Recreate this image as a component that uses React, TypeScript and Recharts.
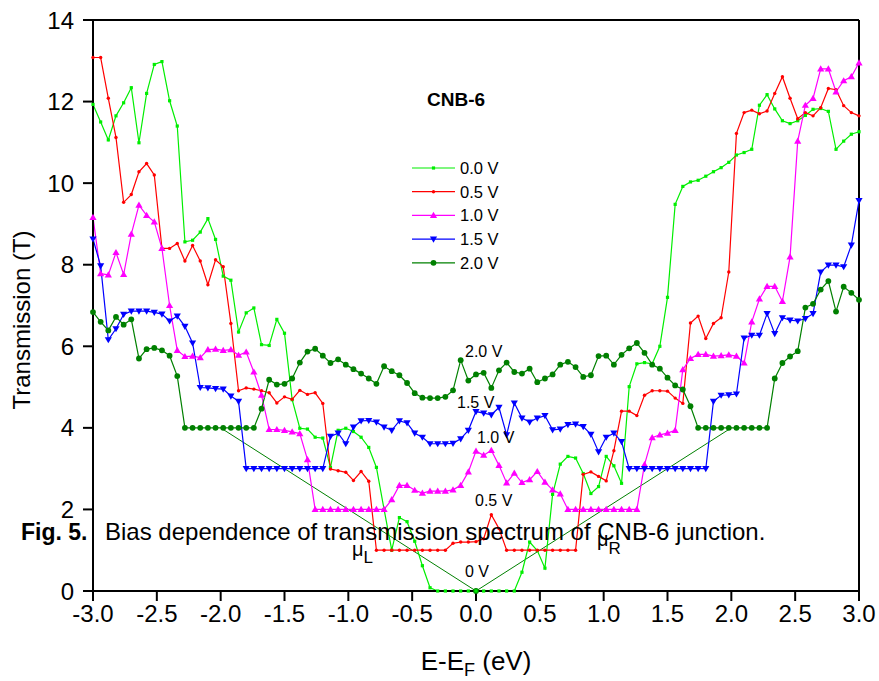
import { LineChart, Line, XAxis, YAxis, ReferenceLine } from 'recharts'

const FONT = '"Liberation Sans", Arial, Helvetica, sans-serif'

// E - E_F grid (eV): 101 points from -3.0 to 3.0, step 0.06
const energy = Array.from({ length: 101 }, (_, i) => Math.round((-3 + i * 0.06) * 100) / 100)

// transmission per bias
const t00 = [
  11.93, 11.5, 11.06, 11.65, 11.97, 12.34, 10.99, 12.2, 12.91, 12.98,
  12.02, 11.4, 8.56, 8.6, 8.8, 9.13, 8.62, 7.72, 7.62, 6.35,
  6.82, 6.94, 6.04, 6.02, 6.66, 6.32, 4.69, 3.99, 3.97, 3.77,
  3.75, 3.03, 3.94, 3.99, 3.91, 3.77, 3.52, 3.03, 2.0, 1.0,
  1.8, 1.7, 1.22, 0.62, 0.08, 0, 0, 0, 0, 0,
  0, 0, 0, 0, 0, 0, 0.46, 1.2, 0.99, 0.56,
  2.37, 3.11, 3.3, 3.26, 2.88, 2.39, 2.56, 3.3, 3.07, 2.64,
  5.01, 5.57, 5.6, 5.57, 6.0, 7.2, 9.48, 9.92, 10.03, 10.07,
  10.17, 10.28, 10.38, 10.51, 10.69, 10.75, 10.83, 11.91, 12.17, 11.82,
  11.53, 11.46, 11.53, 11.66, 11.81, 11.83, 11.76, 10.83, 11.03, 11.2,
  11.26,
]
const t05 = [
  13.08, 13.08, 12.08, 11.12, 9.53, 9.72, 10.28, 10.48, 10.2, 8.4,
  8.4, 8.52, 8.09, 8.47, 8.09, 7.51, 8.12, 7.95, 6.56, 4.91,
  4.98, 4.95, 4.91, 4.86, 4.61, 4.76, 4.7, 4.92, 4.82, 4.86,
  4.6, 2.99, 2.95, 2.91, 2.71, 2.93, 2.69, 1.0, 1.0, 1.0,
  1.0, 1.0, 1.0, 1.0, 1.0, 1.0, 1.0, 1.17, 1.2, 1.2,
  1.21, 1.28, 1.87, 1.53, 1.0, 1.0, 1.0, 1.0, 1.0, 1.0,
  1.0, 1.0, 1.0, 1.0, 2.86, 2.92, 2.81, 2.7, 3.44, 4.41,
  4.41, 4.3, 4.8, 4.91, 4.91, 4.9, 4.73, 4.6, 6.57, 6.74,
  6.19, 6.56, 6.7, 7.82, 11.22, 11.73, 11.79, 11.7, 11.77, 12.2,
  12.61, 12.08, 11.58, 11.73, 11.65, 11.85, 12.32, 12.29, 11.9, 11.73,
  11.65,
]
const t10 = [
  9.16, 7.78, 7.75, 8.3, 7.76, 8.75, 9.46, 9.21, 9.05, 8.4,
  7.0, 5.9, 5.75, 5.76, 5.72, 5.92, 5.93, 5.9, 5.92, 5.78,
  5.86, 5.37, 4.8, 3.96, 3.96, 3.94, 3.9, 3.86, 3.22, 2.0,
  2.0, 2.0, 2.0, 2.0, 2.0, 2.0, 2.0, 2.0, 2.0, 2.24,
  2.59, 2.59, 2.47, 2.4, 2.45, 2.45, 2.45, 2.48, 2.59, 2.92,
  3.43, 3.33, 3.45, 3.08, 2.65, 2.89, 2.66, 2.73, 2.93, 2.67,
  2.48, 2.38, 2.0, 2.0, 2.0, 2.0, 2.0, 2.0, 2.0, 2.0,
  2.0, 2.0, 3.1, 3.76, 3.83, 3.87, 3.94, 5.43, 5.7, 5.8,
  5.8, 5.76, 5.77, 5.79, 5.76, 5.59, 6.6, 7.16, 7.47, 7.47,
  7.1, 8.19, 11.03, 11.91, 12.08, 12.8, 12.8, 12.24, 12.51, 12.61,
  12.95,
]
const t15 = [
  8.63, 7.97, 6.16, 6.43, 6.78, 6.86, 6.86, 6.86, 6.83, 6.79,
  6.62, 6.74, 6.49, 6.08, 4.99, 4.98, 4.96, 4.95, 4.78, 4.65,
  3.0, 3.0, 3.0, 3.0, 3.0, 3.0, 3.0, 3.0, 3.0, 3.0,
  3.0, 3.79, 3.87, 3.61, 4.02, 4.17, 4.18, 4.14, 4.02, 3.94,
  4.17, 4.12, 3.87, 3.77, 3.61, 3.61, 3.61, 3.62, 3.73, 3.94,
  4.4, 4.36, 4.32, 4.5, 3.83, 4.61, 4.24, 4.14, 4.24, 4.3,
  3.95, 3.97, 4.08, 4.09, 4.03, 3.84, 3.41, 3.77, 3.87, 3.66,
  3.0, 3.0, 3.0, 3.0, 3.0, 3.0, 3.0, 3.0, 3.0, 3.0,
  3.0, 4.65, 4.8, 4.81, 4.83, 6.2, 6.27, 6.27, 6.8, 6.31,
  6.7, 6.64, 6.62, 6.68, 6.8, 7.82, 7.99, 7.99, 7.95, 8.48,
  9.57,
]
const t20 = [
  6.84, 6.6, 6.39, 6.72, 6.53, 6.66, 5.7, 5.93, 5.96, 5.9,
  5.77, 5.27, 4.0, 4.0, 4.0, 4.0, 4.0, 4.0, 4.0, 4.0,
  4.0, 4.0, 4.47, 5.18, 5.06, 5.08, 5.21, 5.6, 5.87, 5.94,
  5.77, 5.59, 5.68, 5.55, 5.44, 5.33, 5.21, 5.08, 5.51, 5.39,
  5.29, 5.1, 4.85, 4.74, 4.73, 4.73, 4.76, 4.92, 5.66, 5.16,
  5.31, 5.35, 4.98, 5.41, 5.6, 5.37, 5.33, 5.45, 5.12, 5.21,
  5.31, 5.55, 5.62, 5.49, 5.25, 5.29, 5.76, 5.77, 5.55, 5.79,
  5.95, 6.08, 5.84, 5.55, 5.45, 5.23, 5.04, 4.94, 4.53, 4.0,
  4.0, 4.0, 4.0, 4.0, 4.0, 4.0, 4.0, 4.0, 4.0, 5.21,
  5.59, 5.75, 5.88, 6.95, 7.04, 7.39, 7.6, 6.85, 7.46, 7.31,
  7.14,
]

// bias window (mu_L / mu_R) for 2.0 V
const biasE = [-2, 0, 2]
const biasT = [4, 0, 4]

const xTicks = [-3, -2.5, -2, -1.5, -1, -0.5, 0, 0.5, 1, 1.5, 2, 2.5, 3]
const yTicks = [0, 2, 4, 6, 8, 10, 12, 14]

const data = energy.map((e, i) => ({
  e,
  v00: t00[i],
  v05: t05[i],
  v10: t10[i],
  v15: t15[i],
  v20: t20[i],
}))
const biasData = biasE.map((e, i) => ({ e, bias: biasT[i] }))

type Kind = 'square' | 'dot' | 'up' | 'down' | 'round'

const series: { key: string; label: string; color: string; kind: Kind }[] = [
  { key: 'v00', label: '0.0 V', color: '#00ee00', kind: 'square' },
  { key: 'v05', label: '0.5 V', color: '#ff0000', kind: 'dot' },
  { key: 'v10', label: '1.0 V', color: '#ff00ff', kind: 'up' },
  { key: 'v15', label: '1.5 V', color: '#0000ff', kind: 'down' },
  { key: 'v20', label: '2.0 V', color: '#008000', kind: 'round' },
]

function Marker({ kind, cx, cy, color }: { kind: Kind; cx: number; cy: number; color: string }) {
  if (cx == null || cy == null) return <g />
  if (kind === 'square') return <rect x={cx - 1.6} y={cy - 1.6} width={3.2} height={3.2} fill={color} />
  if (kind === 'dot') return <circle cx={cx} cy={cy} r={1.7} fill={color} />
  if (kind === 'up')
    return <path d={`M${cx},${cy - 3.6}L${cx + 3.6},${cy + 2.6}L${cx - 3.6},${cy + 2.6}Z`} fill={color} />
  if (kind === 'down')
    return <path d={`M${cx},${cy + 3.6}L${cx + 3.6},${cy - 2.6}L${cx - 3.6},${cy - 2.6}Z`} fill={color} />
  return <circle cx={cx} cy={cy} r={2.9} fill={color} />
}

const annotations = [
  { text: '2.0 V', x: 465, y: 357 },
  { text: '1.5 V', x: 457, y: 408 },
  { text: '1.0 V', x: 477, y: 443 },
  { text: '0.5 V', x: 475, y: 506 },
  { text: '0 V', x: 465, y: 577 },
]

export default function App() {
  return (
    <div style={{ position: 'absolute', left: 0, top: 0, width: 879, height: 681, background: '#fff' }}>
      <LineChart width={879} height={681} data={data} margin={{ top: 20, right: 20, bottom: 0, left: 0 }}>
        <XAxis
          dataKey="e"
          type="number"
          domain={[-3, 3]}
          ticks={xTicks}
          interval={0}
          tickFormatter={(v: number) => v.toFixed(1)}
          height={90}
          tickSize={10}
          tickMargin={4}
          tick={{ fontSize: 24, fill: '#000', fontFamily: FONT }}
          tickLine={{ stroke: '#000', strokeWidth: 2 }}
          axisLine={{ stroke: '#000', strokeWidth: 2 }}
        />
        <YAxis
          type="number"
          domain={[0, 14]}
          ticks={yTicks}
          interval={0}
          width={93}
          tickSize={10}
          tickMargin={9}
          tick={{ fontSize: 24, fill: '#000', fontFamily: FONT }}
          tickLine={{ stroke: '#000', strokeWidth: 2 }}
          axisLine={{ stroke: '#000', strokeWidth: 2 }}
        />
        <ReferenceLine y={14} stroke="#000" strokeWidth={2} />
        <ReferenceLine x={3} stroke="#000" strokeWidth={2} />
        <Line
          data={biasData}
          dataKey="bias"
          type="linear"
          stroke="#008000"
          strokeWidth={1}
          isAnimationActive={false}
          activeDot={false}
          dot={(p: any) =>
            p.index === 1 ? (
              <circle key={`bias-${p.index}`} cx={p.cx} cy={p.cy} r={2.9} fill="#008000" />
            ) : (
              <g key={`bias-${p.index}`} />
            )
          }
        />
        {series.map((s) => (
          <Line
            key={s.key}
            dataKey={s.key}
            type="linear"
            stroke={s.color}
            strokeWidth={1.2}
            isAnimationActive={false}
            activeDot={false}
            dot={(p: any) => <Marker key={`${s.key}-${p.index}`} kind={s.kind} cx={p.cx} cy={p.cy} color={s.color} />}
          />
        ))}
      </LineChart>

      <svg
        width={879}
        height={681}
        style={{ position: 'absolute', left: 0, top: 0, pointerEvents: 'none' }}
        fontFamily={FONT}
      >
        <text x={30} y={320} transform="rotate(-90 30 320)" textAnchor="middle" fontSize={24} fill="#000">
          Transmission (T)
        </text>
        <text x={476} y={670} textAnchor="middle" fontSize={26} fill="#000">
          E-E<tspan fontSize={18} dy={6}>F</tspan>
          <tspan dy={-6}> (eV)</tspan>
        </text>

        <text x={427} y={106} fontSize={19} fontWeight="bold" fill="#000">
          CNB-6
        </text>

        {series.map((s, i) => {
          const y = 168 + i * 23.7
          return (
            <g key={s.key}>
              <line x1={412} x2={455} y1={y} y2={y} stroke={s.color} strokeWidth={1.2} />
              <Marker kind={s.kind} cx={433.5} cy={y} color={s.color} />
              <text x={460} y={y + 6} fontSize={16.5} fill="#000">
                {s.label}
              </text>
            </g>
          )
        })}

        {annotations.map((a) => (
          <text key={a.text} x={a.x} y={a.y} fontSize={16} fill="#000">
            {a.text}
          </text>
        ))}

        <text x={352} y={556} fontSize={20} fill="#000">
          μ<tspan fontSize={17} dy={7}>L</tspan>
        </text>
        <text x={597} y={546} fontSize={20} fill="#000">
          μ<tspan fontSize={17} dy={8}>R</tspan>
        </text>

        <text x={21} y={540} fontSize={23} fontWeight="bold" fill="#000">
          Fig. 5.
        </text>
        <text x={105} y={540} fontSize={24} fill="#000">
          Bias dependence of transmission spectrum of CNB-6 junction.
        </text>
      </svg>
    </div>
  )
}
